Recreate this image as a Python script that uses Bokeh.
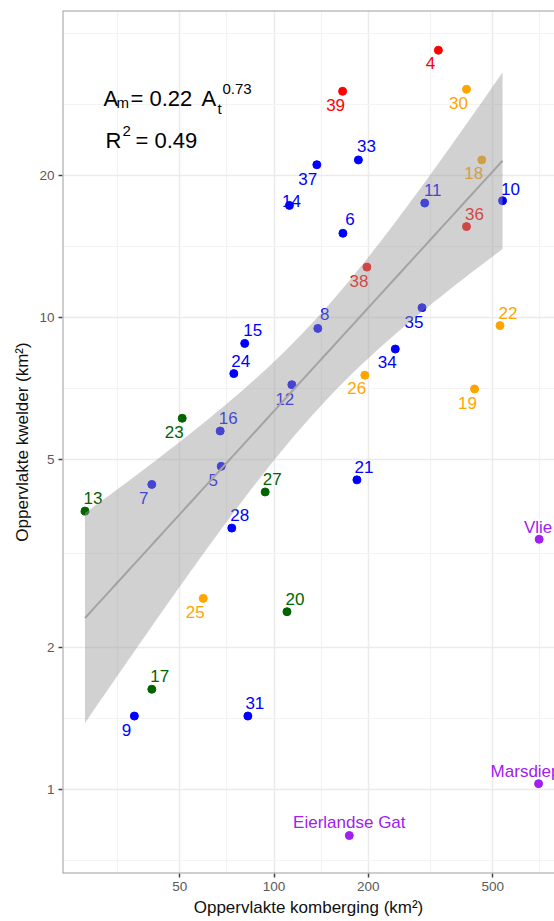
import numpy as np
from bokeh.plotting import figure
from bokeh.models import (ColumnDataSource, FixedTicker, BasicTickFormatter,
                          Label, Range1d, Span)
from bokeh.core.properties import value
from bokeh.embed import file_html
from bokeh.resources import INLINE

# ---------------- data ----------------
names = ["4", "5", "6", "7", "8", "9", "10", "11", "12", "13", "14", "15",
         "16", "17", "18", "19", "20", "21", "22", "23", "24", "25", "26",
         "27", "28", "30", "31", "33", "34", "35", "36", "37", "38", "39",
         "Vlie", "Marsdiep", "Eierlandse Gat"]
komberging = [335, 67.8, 166, 40.7, 138, 35.8, 537, 303, 114, 24.9, 112, 80.6,
              67.3, 40.7, 461, 437, 110, 184, 527, 50.9, 74.4, 59.4, 195,
              93.7, 73.3, 412, 82.5, 186, 244, 297, 412, 137, 198, 165.6,
              703, 700, 174]
kwelder = [36.9, 4.84, 15.1, 4.43, 9.49, 1.43, 17.7, 17.5, 7.21, 3.89, 17.3, 8.82,
           5.75, 1.63, 21.6, 7.06, 2.38, 4.53, 9.62, 6.12, 7.61, 2.54, 7.55,
           4.27, 3.58, 30.5, 1.43, 21.6, 8.58, 10.5, 15.6, 21.1, 12.8, 30.2,
           3.39, 1.028, 0.798]
groups = ["rood", "blauw", "blauw", "blauw", "blauw", "blauw", "blauw", "blauw",
          "blauw", "groen", "blauw", "blauw", "blauw", "groen", "oranje", "oranje",
          "groen", "blauw", "oranje", "groen", "blauw", "oranje", "oranje",
          "groen", "blauw", "oranje", "blauw", "blauw", "blauw", "blauw", "rood",
          "blauw", "rood", "rood", "paars", "paars", "paars"]

x_tick_values = [50, 100, 200, 500]
y_tick_values = [1, 2, 5, 10, 20]
eq_coef = "0.22"
eq_exp = "0.73"
eq_r2 = "0.49"

# ---------------- styling ----------------
COLORS = {"blauw": "#0000FF", "rood": "#FF0000", "oranje": "#FFA500",
          "groen": "#006400", "paars": "#A020F0"}
# label offsets in screen pixels (position/style, not data)
label_dx = [-8, -8, 7, -8, 7, -8, 8, 8, -7, 8, 2, 8, 8, 8, -8, -7, 8, 7, 8, -8,
            7, -8, -8, 7, 8, -8, 7, 8, -8, -8, 8, -9, -8, -7, -1, -13, 0]
label_dy = [13, 14, -14, 14, -14, 14, -12, -13, 14, -13, -4, -13, -13, -13, 13,
            14, -13, -13, -13, 14, -13, 14, 13, -13, -13, 14, -13, -14, 13, 14,
            -13, 14, 14, 14, -12, -12, -13]

FONT = "Liberation Sans"
BORDER = "#9E9E9E"

colors = [COLORS[g] for g in groups]
src = ColumnDataSource(dict(x=komberging, y=kwelder, name=names, color=colors,
                            dx=label_dx, dy=label_dy))

xr = Range1d(21.1, 787)
yr = Range1d(0.663, 44.8)
p = figure(width=554, height=921, x_axis_type="log", y_axis_type="log",
           x_range=xr, y_range=yr,
           output_backend="svg", toolbar_location=None,
           min_border_left=62, min_border_right=0, min_border_top=10,
           min_border_bottom=48, background_fill_color="white",
           border_fill_color="white")

# ticks & grid (ggplot-like minor breaks at geometric midpoints)
x_bounds = [20] + x_tick_values + [1000]
x_minor = [float(np.sqrt(a * b)) for a, b in zip(x_bounds[:-1], x_bounds[1:])]
y_bounds = [0.5] + y_tick_values + [40]
y_minor = [float(np.sqrt(a * b)) for a, b in zip(y_bounds[:-1], y_bounds[1:])] + [40]

xt = FixedTicker(ticks=x_tick_values, minor_ticks=x_minor)
yt = FixedTicker(ticks=y_tick_values, minor_ticks=y_minor)
p.xaxis.ticker = xt
p.yaxis.ticker = yt
p.xgrid.ticker = xt
p.ygrid.ticker = yt
for g in (p.xgrid, p.ygrid):
    g.grid_line_color = "#EBEBEB"
    g.grid_line_width = 1.5
    g.minor_grid_line_color = "#F3F3F3"
    g.minor_grid_line_width = 1.2

for ax in (p.xaxis, p.yaxis):
    ax.formatter = BasicTickFormatter(use_scientific=False)
    ax.axis_line_color = None
    ax.major_tick_line_color = "#444444"
    ax.major_tick_line_width = 1.5
    ax.major_tick_out = 4
    ax.major_tick_in = 0
    ax.minor_tick_line_color = None
    ax.major_label_text_font = FONT
    ax.major_label_text_font_size = "13.5px"
    ax.major_label_text_color = "#5A5A5A"
    ax.major_label_standoff = 4
    ax.axis_label_text_font = FONT
    ax.axis_label_text_font_size = "17px"
    ax.axis_label_text_font_style = "normal"
    ax.axis_label_text_color = "#111111"
    ax.axis_label_standoff = 4

p.xaxis.axis_label = "Oppervlakte komberging (km²)"
p.yaxis.axis_label = "Oppervlakte kwelder (km²)"

# panel border: top, left, bottom (right side lies beyond the cropped edge)
p.outline_line_color = None
p.add_layout(Span(location=yr.end, dimension="width", line_color=BORDER, line_width=2))
p.add_layout(Span(location=yr.start, dimension="width", line_color=BORDER, line_width=2))
p.add_layout(Span(location=xr.start, dimension="height", line_color=BORDER, line_width=2))

# points and labels
p.scatter("x", "y", source=src, size=8, color="color", line_color="color")
p.text("x", "y", text="name", source=src, x_offset="dx", y_offset="dy",
       text_color="color", text_font=value(FONT), text_font_size=value("17px"),
       text_align="center", text_baseline="middle")

# linear fit in log-log space (Wadden inlets excluded), with 95% CI
mask = np.array([g != "paars" for g in groups])
lx = np.log10(np.array(komberging))[mask]
ly = np.log10(np.array(kwelder))[mask]
n = lx.size
b, a = np.polyfit(lx, ly, 1)
res = ly - (a + b * lx)
s = np.sqrt(np.sum(res ** 2) / (n - 2))
sxx = np.sum((lx - lx.mean()) ** 2)
tq = 2.0369  # t(0.975, df=32)
gx = np.linspace(lx.min(), lx.max(), 80)
gy = a + b * gx
se = s * np.sqrt(1.0 / n + (gx - lx.mean()) ** 2 / sxx)
p.varea(x=10 ** gx, y1=10 ** (gy - tq * se), y2=10 ** (gy + tq * se),
        fill_color="#999999", fill_alpha=0.45)
p.line(10 ** gx, 10 ** gy, line_color="#A3A3A3", line_width=2)

# equation annotation (frame-relative screen units)
def lab(txt, x, y, size):
    p.add_layout(Label(x=x, y=y, x_units="screen", y_units="screen", text=txt,
                       text_font=FONT, text_font_size=size, text_color="black",
                       text_baseline="alphabetic", text_align="left"))

lab("A", 41, 775, "22px")
lab("m", 54, 771, "15px")
lab("= " + eq_coef, 68, 775, "22px")
lab("A", 139, 775, "22px")
lab("t", 155, 765, "15px")
lab(eq_exp, 160, 785, "15px")
lab("R", 43, 733, "22px")
lab("2", 60, 743, "15px")
lab("= " + eq_r2, 73, 733, "22px")

open("out.html", "w").write(file_html(p, INLINE))
